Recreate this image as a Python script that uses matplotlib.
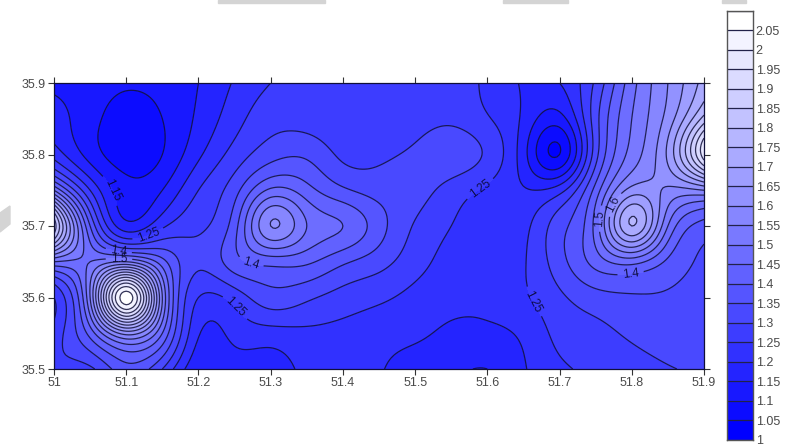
import matplotlib

matplotlib.use("Agg")
import matplotlib.pyplot as plt
import numpy as np
from matplotlib.colors import BoundaryNorm, ListedColormap
from matplotlib.patches import Polygon, Rectangle

plt.rcParams["font.family"] = ["Liberation Sans", "DejaVu Sans"]

W, H = 787, 446

lon = [51.0, 51.05, 51.1, 51.15, 51.2, 51.25, 51.3, 51.35, 51.4, 51.45,
       51.5, 51.55, 51.6, 51.65, 51.7, 51.75, 51.8, 51.85, 51.9]
lat = [35.9, 35.85, 35.8, 35.75, 35.7, 35.65, 35.6, 35.55, 35.5]

# one row per latitude, north to south
z_359 = [1.14, 1.13, 1.11, 1.12, 1.15, 1.205, 1.25, 1.27, 1.27, 1.27, 1.27, 1.27, 1.24, 1.195, 1.20, 1.31, 1.48, 1.60, 1.72]
z_3585 = [1.17, 1.12, 1.07, 1.10, 1.16, 1.23, 1.28, 1.28, 1.27, 1.27, 1.28, 1.29, 1.255, 1.19, 1.13, 1.33, 1.50, 1.62, 1.82]
z_358 = [1.23, 1.13, 1.07, 1.10, 1.19, 1.27, 1.33, 1.34, 1.29, 1.29, 1.31, 1.33, 1.29, 1.17, 1.05, 1.33, 1.52, 1.66, 1.98]
z_3575 = [1.50, 1.25, 1.12, 1.15, 1.25, 1.33, 1.46, 1.42, 1.36, 1.33, 1.32, 1.28, 1.24, 1.205, 1.23, 1.42, 1.62, 1.59, 1.60]
z_357 = [1.88, 1.40, 1.17, 1.24, 1.29, 1.38, 1.60, 1.50, 1.45, 1.37, 1.295, 1.25, 1.22, 1.235, 1.33, 1.47, 1.75, 1.50, 1.38]
z_3565 = [1.50, 1.50, 1.55, 1.42, 1.31, 1.38, 1.42, 1.41, 1.36, 1.32, 1.27, 1.23, 1.21, 1.245, 1.33, 1.42, 1.47, 1.39, 1.34]
z_356 = [1.25, 1.55, 2.08, 1.55, 1.25, 1.27, 1.33, 1.31, 1.28, 1.26, 1.235, 1.215, 1.21, 1.24, 1.29, 1.33, 1.345, 1.345, 1.33]
z_3555 = [1.27, 1.42, 1.62, 1.45, 1.205, 1.215, 1.23, 1.24, 1.235, 1.22, 1.21, 1.19, 1.19, 1.21, 1.265, 1.285, 1.31, 1.33, 1.33]
z_355 = [1.30, 1.29, 1.38, 1.30, 1.16, 1.17, 1.17, 1.215, 1.22, 1.205, 1.17, 1.16, 1.15, 1.195, 1.24, 1.26, 1.27, 1.295, 1.31]
z_rows = [z_359, z_3585, z_358, z_3575, z_357, z_3565, z_356, z_3555, z_355]

levels = [1 + 0.05 * i for i in range(23)]
level_names = ["1", "1.05", "1.1", "1.15", "1.2", "1.25", "1.3", "1.35", "1.4", "1.45", "1.5",
               "1.55", "1.6", "1.65", "1.7", "1.75", "1.8", "1.85", "1.9", "1.95", "2", "2.05"]
lon_ticks = [51, 51.1, 51.2, 51.3, 51.4, 51.5, 51.6, 51.7, 51.8, 51.9]
lon_names = ["51", "51.1", "51.2", "51.3", "51.4", "51.5", "51.6", "51.7", "51.8", "51.9"]
lat_ticks = [35.5, 35.6, 35.7, 35.8, 35.9]
lat_names = ["35.5", "35.6", "35.7", "35.8", "35.9"]
# contour label: index into levels, then lon, lat near where it sits
label_spots = [(3, 51.08, 35.75), (5, 51.13, 35.69), (8, 51.09, 35.668), (10, 51.09, 35.652),
               (8, 51.27, 35.64), (5, 51.25, 35.585), (5, 51.595, 35.745), (5, 51.675, 35.6),
               (10, 51.76, 35.71), (12, 51.785, 35.725), (8, 51.8, 35.62)]

TEXT = "#4a4a4a"
LINE = "#10103a"


def px_axes(fig, left, top, right, bottom):
    return fig.add_axes([left / W, 1 - bottom / H, (right - left) / W, (bottom - top) / H])


def spline_along_first_axis(x, y, x_fine):
    """Natural cubic spline of y (rows along x) evaluated at x_fine."""
    x = np.asarray(x)
    h = np.diff(x)
    A = np.zeros((len(x), len(x)))
    A[0, 0] = A[-1, -1] = 1.0
    rhs = np.zeros_like(y)
    for i in range(1, len(x) - 1):
        A[i, i - 1:i + 2] = [h[i - 1], 2 * (h[i - 1] + h[i]), h[i]]
        rhs[i] = 6 * ((y[i + 1] - y[i]) / h[i] - (y[i] - y[i - 1]) / h[i - 1])
    m = np.linalg.solve(A, rhs)
    idx = np.clip(np.searchsorted(x, x_fine) - 1, 0, len(x) - 2)
    a = ((x[idx + 1] - x_fine) / h[idx])[:, None]
    b = ((x_fine - x[idx]) / h[idx])[:, None]
    hh = h[idx][:, None] ** 2 / 6
    return a * y[idx] + b * y[idx + 1] + ((a ** 3 - a) * m[idx] + (b ** 3 - b) * m[idx + 1]) * hh


# white at the top band, pure blue at the bottom one
n_bands = len(levels) - 1
fade = np.linspace(0, 1, n_bands)
band_colors = np.column_stack([fade, fade, np.ones(n_bands)])
cmap = ListedColormap(band_colors)
norm = BoundaryNorm(levels, n_bands)

# smooth the read values onto a fine mesh so the isolines stay round
z = np.array(z_rows)[::-1]
lat_up = lat[::-1]
lon_fine = np.linspace(lon[0], lon[-1], 271)
lat_fine = np.linspace(lat_up[0], lat_up[-1], 121)
z_fine = spline_along_first_axis(lat_up, z, lat_fine)
z_fine = spline_along_first_axis(lon, z_fine.T, lon_fine).T

fig = plt.figure(figsize=(W / 100, H / 100), dpi=100)
ax = px_axes(fig, 54, 83, 704, 369)
ax.contourf(lon_fine, lat_fine, z_fine, levels=levels, cmap=cmap, norm=norm)
# one contour set per level, clabel with levels= trips on a single set
level_sets = {}
for i in range(1, 22):
    level_sets[i] = ax.contour(lon_fine, lat_fine, z_fine, levels=[levels[i]], colors=LINE,
                               linewidths=0.9, alpha=0.85)
for level_idx, spot_lon, spot_lat in label_spots:
    ax.clabel(level_sets[level_idx], manual=[(spot_lon, spot_lat)], fmt="%g",
              fontsize=8.5, colors="#05052a", inline=True)

ax.set_xlim(51, 51.9)
ax.set_ylim(35.5, 35.9)
ax.set_xticks(lon_ticks, lon_names)
ax.set_yticks(lat_ticks, lat_names)
ax.tick_params(axis="both", direction="out", length=4, width=0.8, color="#333333",
               labelsize=9, labelcolor=TEXT, pad=2, top=True, right=True)
for spine in ax.spines.values():
    spine.set_color(LINE)
    spine.set_linewidth(0.9)

# stepped legend, one box per contour interval
cax = px_axes(fig, 727, 10.5, 753, 440)
cax.pcolormesh([0, 1], levels, np.array(levels[:-1]).reshape(-1, 1), cmap=cmap, norm=norm)
cax.hlines(levels, 0, 1, colors="#22224a", linewidth=0.9)
cax.set_xlim(0, 1)
cax.set_ylim(levels[0], levels[-1])
cax.set_xticks([])
cax.yaxis.tick_right()
cax.set_yticks(levels[:-1], level_names)
cax.tick_params(axis="y", length=0, labelsize=9, labelcolor=TEXT, pad=2)
for spine in cax.spines.values():
    spine.set_color("#555555")
    spine.set_linewidth(1.0)

# cropped grey scraps along the edges of the scan
for left, width in [(218, 107), (503, 65), (722, 24)]:
    fig.add_artist(Rectangle((left / W, 1 - 3 / H), width / W, 3 / H, color="#d4d4d4",
                             transform=fig.transFigure))
scrap = np.array([[0, 213], [10, 206], [10, 224], [0, 232]]) / [W, H]
scrap[:, 1] = 1 - scrap[:, 1]
fig.add_artist(Polygon(scrap, color="#d4d4d4", transform=fig.transFigure))

fig.savefig("out.png", dpi=100)
plt.close(fig)
